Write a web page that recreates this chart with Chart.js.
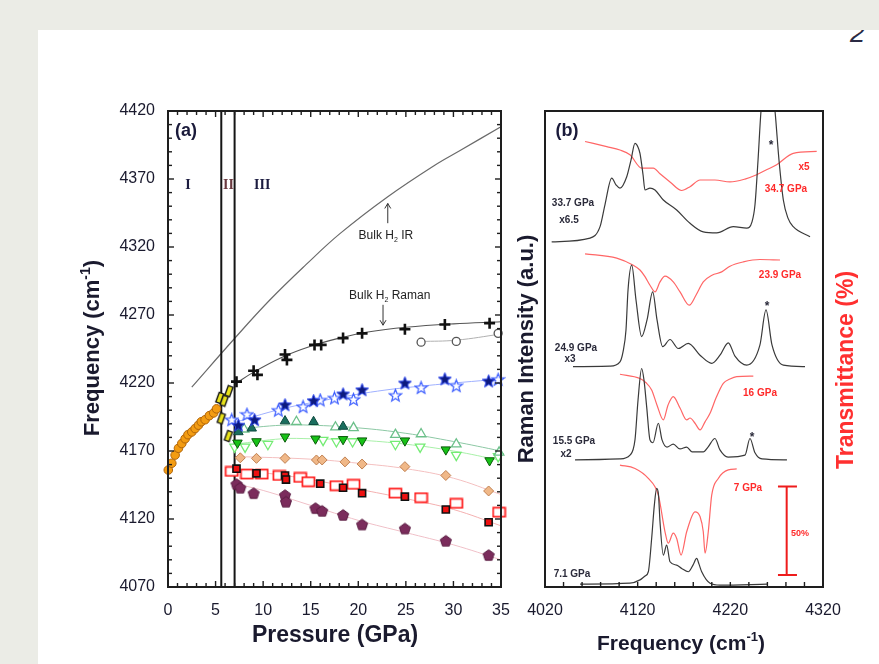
<!DOCTYPE html>
<html><head><meta charset="utf-8">
<script src="https://cdn.jsdelivr.net/npm/chart.js@4.4.0/dist/chart.umd.min.js"></script>
<style>
html,body{margin:0;padding:0;}
body{width:879px;height:664px;background:#ebece6;position:relative;overflow:hidden;font-family:"Liberation Sans",Arial,sans-serif;}
#page{position:absolute;left:38px;top:30px;width:841px;height:634px;background:#fff;overflow:hidden;}
#pg{position:absolute;left:812px;top:-10px;font:italic 27px/27px "Liberation Sans",Arial,sans-serif;color:#2a2a44;}
canvas{position:absolute;left:0;top:0;}
</style></head>
<body>
<div id="page"><div id="pg">2</div></div>
<canvas id="ca" width="879" height="664"></canvas>
<canvas id="cb" width="879" height="664"></canvas>
<script>
// ---------------- Panel (a) data: [pressure GPa, frequency cm-1] ----------------
const phaseIOrange = [[0.03,4156],[0.4,4161],[0.75,4167],[1.1,4172],[1.45,4175.5],[1.8,4179],[2.1,4182],[2.5,4184],[2.85,4186.5],[3.2,4189],[3.5,4191.5],[3.9,4193],[4.35,4196],[4.8,4198],[5.1,4201]];
const phaseIIYellow = [[5.45,4209],[5.9,4207],[6.4,4214],[5.6,4194],[6.35,4181]];
const crossesBlack = [[7.2,4221],[9.0,4229],[9.4,4226],[12.3,4241],[12.5,4237],[15.4,4248],[16.1,4248],[18.4,4253],[20.4,4256.5],[24.9,4259.5],[29.1,4263],[33.8,4264]];
const circlesOpen = [[26.6,4250],[30.3,4250.6],[34.7,4256.5]];
const starsFilled = [[7.4,4189],[9.1,4193],[12.3,4204],[15.3,4207],[18.4,4212],[20.4,4215],[24.9,4220],[29.1,4223],[33.7,4221.5]];
const starsOpen = [[6.7,4193],[8.3,4197],[11.6,4200],[14.2,4202.6],[16.0,4207.5],[17.5,4209],[19.5,4208],[23.9,4211],[26.6,4216.6],[30.3,4218],[34.7,4222.7]];
const triUpFilled = [[7.4,4184],[8.8,4186.7],[12.3,4192],[15.3,4191.5],[18.4,4188]];
const triUpOpen = [[8.0,4186],[13.5,4191.5],[17.6,4187.5],[19.5,4187],[23.9,4182],[26.6,4182.5],[30.3,4175],[34.8,4169]];
const triDownFilled = [[7.3,4176],[9.3,4177],[12.3,4180.5],[15.5,4179],[18.4,4178.6],[20.4,4177.6],[24.9,4177.6],[29.2,4171],[33.8,4163]];
const triDownOpen = [[7.0,4173],[8.1,4173],[10.5,4175],[16.3,4178],[17.7,4177],[19.4,4177],[23.9,4175],[26.5,4173],[30.3,4167],[34.7,4166]];
const diamonds = [[7.6,4165],[9.3,4164.6],[12.3,4164.6],[15.6,4163.4],[16.2,4163.4],[18.6,4162],[20.4,4160.4],[24.9,4158.5],[29.2,4152],[33.7,4140.6]];
const squaresFilled = [[7.2,4157],[9.3,4153.6],[12.3,4152],[12.4,4149],[16.0,4146],[18.4,4143],[20.4,4139],[24.9,4136.4],[29.2,4127],[33.7,4117.6]];
const squaresOpen = [[6.7,4155],[8.3,4153],[9.85,4153],[11.7,4152],[13.9,4150.6],[14.75,4147.4],[17.7,4144.5],[19.5,4145.5],[23.9,4139],[26.6,4135.7],[30.3,4131.5],[34.8,4125]];
const pentagons = [[7.2,4145.7],[7.6,4143],[9.0,4139],[12.3,4137.6],[12.4,4132.7],[15.5,4128],[16.2,4126],[18.4,4123],[20.4,4116],[24.9,4113],[29.2,4104],[33.7,4093.5]];
// curves
const bulkIR = [[2.5,4217],[6.9,4252],[10.7,4281],[14.5,4307],[18.1,4330],[23.1,4357],[28,4380],[30.7,4391],[34.9,4408]];
const fitRaman = [[7.0,4219],[9,4228],[12,4239],[15,4247],[18,4253],[21,4257.5],[25,4261],[30,4263.5],[35,4265]];
const fitCircles = [[26.6,4250.5],[30.3,4251.5],[35,4256]];
const fitStars = [[6.5,4190],[12,4201],[17,4208],[22,4214],[27,4218],[35,4223]];
const fitUp = [[7,4186],[12,4189],[15,4189],[20,4187],[25,4183],[30,4177],[35,4170]];
const fitDown = [[7,4175],[12,4179],[15,4179],[20,4178],[25,4175],[30,4170],[35,4163]];
const fitDiamond = [[7,4166],[15,4164],[20,4161],[25,4157],[30,4150],[35,4138]];
const fitSquare = [[6.5,4156],[10,4154],[15,4149],[20,4142],[25,4135],[30,4127],[35,4115]];
const fitPent = [[7,4146],[10,4141],[15,4130],[20,4119],[25,4110],[30,4101],[35,4090]];
const phaseLines = [5.6, 7.0];
const pressureTicks = [0,5,10,15,20,25,30,35];
const freqTicksA = [4070,4120,4170,4220,4270,4320,4370,4420];

// ---------------- Panel (b) data: [frequency cm-1, intensity a.u.] ----------------
const raman71 = [[4057.8,0.6],[4111.7,0.8],[4122.5,1.5],[4127.9,2.3],[4131.5,3.2],[4135.1,10.2],[4138.0,17.2],[4140.5,20.7],[4142.5,19.3],[4144.1,13.7],[4147.7,6.7],[4151.3,8.8],[4154.9,5.3],[4162.1,4.6],[4167.5,3.9],[4174.6,3.2],[4179.7,4.6],[4183.7,6.0],[4186.2,4.8],[4189.1,3.2],[4198.1,0.8],[4208.8,0.4],[4259.6,0.6]];
const raman155 = [[4052.4,26.7],[4100.9,26.9],[4111.7,27.7],[4117.1,30.9],[4120.4,39.3],[4124.3,45.9],[4126.8,43.5],[4129.7,37.9],[4133.3,30.9],[4136.5,30.3],[4142.3,34.4],[4146.3,30.9],[4151.6,29.4],[4158.4,30.0],[4165.7,29.0],[4172.9,29.4],[4178.6,28.4],[4190.8,28.4],[4195.9,29.4],[4203.4,31.2],[4208.8,28.8],[4217.5,27.3],[4235.8,27.7],[4241.2,31.2],[4246.6,28.2],[4254.2,26.9],[4281.1,26.7]];
const raman249 = [[4050.2,46.3],[4090.1,46.4],[4100.9,47.3],[4104.2,49.4],[4107.4,54.0],[4109.6,62.4],[4113.6,67.6],[4118.2,60.3],[4124.3,52.6],[4130.1,56.1],[4136.2,62.0],[4140.9,56.1],[4147.0,50.5],[4154.9,52.0],[4163.8,50.1],[4174.6,51.2],[4187.3,48.7],[4199.9,47.0],[4208.8,48.7],[4217.8,51.3],[4225.0,48.5],[4237.7,46.6],[4251.9,50.8],[4258.5,58.2],[4265.0,50.8],[4277.2,46.6],[4300.6,46.3]];
const raman337 = [[4027.2,72.5],[4068.6,73.3],[4079.4,75.7],[4084.7,80.3],[4092.0,85.9],[4096.6,84.5],[4100.9,83.8],[4108.2,86.2],[4112.8,89.7],[4117.1,93.2],[4120.4,92.4],[4122.5,91.1],[4125.8,86.6],[4127.9,83.4],[4133.3,83.8],[4138.7,83.4],[4147.7,81.3],[4162.1,79.2],[4176.5,76.4],[4190.8,74.6],[4205.3,74.4],[4223.2,75.7],[4237.7,75.4],[4243.4,76.7],[4246.6,80.3],[4249.9,89.7],[4253.1,100],[4260.6,112],[4268.2,100],[4272.5,89.7],[4277.2,81.3],[4282.2,77.5],[4287.9,75.7],[4306.0,73.6]];
const trans7 = [[4100.9,25.6],[4117.1,24.9],[4131.5,22.8],[4142.3,19.3],[4149.5,11.6],[4153.0,9.2],[4158.4,11.3],[4162.1,10.2],[4166.8,6.7],[4172.9,11.6],[4181.9,15.8],[4187.3,14.8],[4190.8,11.6],[4192.7,7.1],[4196.2,11.6],[4199.9,19.3],[4207.0,22.8],[4217.8,24.6],[4226.9,24.8]];
const trans16 = [[4100.9,44.7],[4122.5,43.8],[4129.0,42.9],[4135.1,41.4],[4140.9,38.2],[4147.7,35.1],[4152.7,38.2],[4158.4,40.0],[4165.7,37.6],[4172.9,35.1],[4176.5,35.5],[4181.9,34.4],[4187.3,33.0],[4192.7,34.7],[4198.1,36.5],[4204.5,39.7],[4212.4,42.8],[4219.6,43.7],[4226.9,44.2],[4244.8,44.3]];
const trans239 = [[4063.2,70.0],[4097.4,69.1],[4115.3,67.6],[4122.5,66.6],[4127.9,65.2],[4133.3,63.4],[4138.7,62.0],[4144.1,64.1],[4149.5,65.3],[4158.4,64.1],[4165.7,62.0],[4175.7,59.2],[4182.9,61.3],[4190.8,64.1],[4200.2,65.5],[4210.7,66.2],[4219.6,67.4],[4234.0,68.3],[4252.0,68.8],[4273.6,68.7]];
const trans347 = [[4063.2,93.6],[4086.6,92.5],[4100.9,91.8],[4111.7,90.8],[4124.3,88.0],[4136.9,88.0],[4144.1,86.8],[4154.9,85.1],[4167.5,83.3],[4176.5,84.1],[4187.3,85.5],[4203.4,85.5],[4219.6,85.1],[4235.8,85.7],[4248.4,86.6],[4258.5,87.6],[4270.0,88.7],[4287.9,91.1],[4313.2,91.5]];
const scaleBar = [[4271.4,21.1],[4291.9,21.1],null,[4280.8,21.1],[4280.8,2.5],null,[4271.4,2.5],[4291.9,2.5]];
const freqTicksB = [4020,4120,4220,4320];

// ---------------- helpers ----------------
const FONT = '"Liberation Sans", Arial, sans-serif';
Chart.defaults.font.family = FONT;
const pts = a => a.map(p => p === null ? {x:null,y:null} : ({x:p[0], y:p[1]}));
function mk(w,h,draw){const c=document.createElement('canvas');c.width=w;c.height=h;draw(c.getContext('2d'),w,h);return c;}
function starPath(g,cx,cy,R,r){g.beginPath();for(let i=0;i<10;i++){const a=-Math.PI/2+i*Math.PI/5;const rr=i%2?r:R;g.lineTo(cx+rr*Math.cos(a),cy+rr*Math.sin(a));}g.closePath();}
const starFill = mk(15,15,g=>{starPath(g,7.5,8,6.8,2.9);g.fillStyle='#0d1a7e';g.fill();g.strokeStyle='#2a44ee';g.lineWidth=1;g.stroke();});
const starOpen = mk(15,15,g=>{starPath(g,7.5,8,6.4,2.7);g.fillStyle='#fff';g.fill();g.strokeStyle='#3a5cff';g.lineWidth=1.2;g.stroke();});
const pentMark = mk(14,14,g=>{g.beginPath();for(let i=0;i<5;i++){const a=-Math.PI/2+i*2*Math.PI/5;g.lineTo(7+5.8*Math.cos(a),7.5+5.8*Math.sin(a));}g.closePath();g.fillStyle='#7b2c5c';g.fill();g.strokeStyle='#5a1c42';g.lineWidth=1;g.stroke();});
const yelMark = mk(12,14,g=>{g.translate(6,7);g.rotate(0.35);g.fillStyle='#e8e21a';g.fillRect(-2.5,-5,5,10);g.strokeStyle='#1a1a1a';g.lineWidth=1.4;g.strokeRect(-2.5,-5,5,10);});
const sqOpenMark = mk(15,12,g=>{g.fillStyle='#fff';g.fillRect(1.5,1.5,12,9);g.strokeStyle='#ff1a1a';g.lineWidth=1.7;g.strokeRect(1.5,1.5,12,9);});

function rich(ctx, parts, cx, cy, size, weight, color, rot, align){
  ctx.save(); ctx.translate(cx,cy); if(rot) ctx.rotate(rot);
  ctx.fillStyle=color; ctx.textBaseline='alphabetic'; ctx.textAlign='left';
  const fonts = parts.map(p=>`${weight} ${(p.sup||p.sub)?Math.round(size*0.62):size}px ${FONT}`);
  let w=0; parts.forEach((p,i)=>{ctx.font=fonts[i]; w+=ctx.measureText(p.t).width;});
  let x = align==='left'?0:(align==='right'?-w:-w/2); const base=size*0.36;
  parts.forEach((p,i)=>{ctx.font=fonts[i]; const dy=p.sup?-size*0.42:(p.sub?size*0.28:0); ctx.fillText(p.t,x,base+dy); x+=ctx.measureText(p.t).width;});
  ctx.restore();
}
function seg(ctx,x1,y1,x2,y2){ctx.beginPath();ctx.moveTo(x1,y1);ctx.lineTo(x2,y2);ctx.stroke();}

function scatterDs(data, o){return Object.assign({data:pts(data), showLine:false, pointRadius:5, pointBorderWidth:1, pointHoverRadius:0, clip:false}, o);}
function lineDs(data, color, w, o){return Object.assign({data:pts(data), showLine:true, pointRadius:0, borderColor:color, borderWidth:w, tension:0.4, fill:false}, o||{});}
const tickFont = {size:16};
const tickColor = '#1a1a2e';

// ---------------- Panel (a) ----------------
const frameA = {id:'frameA', afterDraw(c){
  const {ctx, chartArea:a, scales:{x,y}} = c;
  ctx.save(); ctx.strokeStyle='#1e1e1e'; ctx.lineWidth=1.4;
  for(let v=0; v<=35; v++){const px=x.getPixelForValue(v); const L=v%5===0?6:4; seg(ctx,px,a.bottom,px,a.bottom-L); seg(ctx,px,a.top,px,a.top+L);}
  for(let v=4070; v<=4420; v+=10){const py=y.getPixelForValue(v); const L=(v-4070)%50===0?6:4; seg(ctx,a.left,py,a.left+L,py); seg(ctx,a.right,py,a.right-L,py);}
  ctx.lineWidth=2; ctx.strokeRect(a.left,a.top,a.right-a.left,a.bottom-a.top);
  // arrows
  ctx.strokeStyle='#333'; ctx.lineWidth=1;
  let ax=x.getPixelForValue(23.1), y1=y.getPixelForValue(4337.5), y2=y.getPixelForValue(4352);
  seg(ctx,ax,y1,ax,y2); seg(ctx,ax,y2,ax-3,y2+5); seg(ctx,ax,y2,ax+3,y2+5);
  ax=x.getPixelForValue(22.6); y1=y.getPixelForValue(4277.5); y2=y.getPixelForValue(4262.5);
  seg(ctx,ax,y1,ax,y2); seg(ctx,ax,y2,ax-3,y2-5); seg(ctx,ax,y2,ax+3,y2-5);
  // texts
  rich(ctx,[{t:'(a)'}],186,130,18,'bold','#1a1a3a');
  ctx.font=`bold 14px "Liberation Serif", serif`; ctx.textAlign='center'; ctx.textBaseline='middle';
  ctx.fillStyle='#1c1c40'; ctx.fillText('I', x.getPixelForValue(2.1), y.getPixelForValue(4365));
  ctx.fillStyle='#6a3a40'; ctx.fillText('II', x.getPixelForValue(6.35), y.getPixelForValue(4365));
  ctx.fillStyle='#1c1c40'; ctx.fillText('III', x.getPixelForValue(9.9), y.getPixelForValue(4365));
  rich(ctx,[{t:'Bulk H'},{t:'2',sub:true},{t:' IR'}], x.getPixelForValue(22.9), y.getPixelForValue(4329), 12,'normal','#222');
  rich(ctx,[{t:'Bulk H'},{t:'2',sub:true},{t:' Raman'}], x.getPixelForValue(23.3), y.getPixelForValue(4285), 12,'normal','#222');
  // axis titles
  rich(ctx,[{t:'Frequency (cm'},{t:'-1',sup:true},{t:')'}], 91, 348, 22,'bold','#1a1a2e', -Math.PI/2);
  rich(ctx,[{t:'Pressure (GPa)'}], 335, 634, 23,'bold','#1a1a2e');
  ctx.restore();
}};

const dsA = [
  scatterDs(phaseIIYellow,{pointStyle:yelMark}),
  scatterDs(phaseIOrange,{pointStyle:'circle',pointRadius:4.3,backgroundColor:'#f39c12',borderColor:'#b0650a'}),
  scatterDs(crossesBlack,{pointStyle:'cross',pointRadius:5.5,pointBorderWidth:2.6,borderColor:'#111'}),
  scatterDs(circlesOpen,{pointStyle:'circle',pointRadius:4,backgroundColor:'#fff',borderColor:'#555',pointBorderWidth:1.3}),
  scatterDs(starsFilled,{pointStyle:starFill}),
  scatterDs(starsOpen,{pointStyle:starOpen}),
  scatterDs(triUpFilled,{pointStyle:'triangle',pointRadius:5.5,backgroundColor:'#1a6e5e',borderColor:'#0e4a3e'}),
  scatterDs(triUpOpen,{pointStyle:'triangle',pointRadius:5.5,backgroundColor:'#fff',borderColor:'#6cc08a',pointBorderWidth:1.3}),
  scatterDs(triDownFilled,{pointStyle:'triangle',rotation:180,pointRotation:180,pointRadius:5.5,backgroundColor:'#16c216',borderColor:'#0a5a0a'}),
  scatterDs(triDownOpen,{pointStyle:'triangle',rotation:180,pointRotation:180,pointRadius:5.5,backgroundColor:'#fff',borderColor:'#74ec74',pointBorderWidth:1.3}),
  scatterDs(diamonds,{pointStyle:'rectRot',pointRadius:5,backgroundColor:'#f0b888',borderColor:'#c08050'}),
  scatterDs(squaresFilled,{pointStyle:'rect',pointRadius:5,backgroundColor:'#ee1010',borderColor:'#111',pointBorderWidth:1.6}),
  scatterDs(squaresOpen,{pointStyle:sqOpenMark}),
  scatterDs(pentagons,{pointStyle:pentMark}),
  lineDs([[phaseLines[0],4070],[phaseLines[0],4420]],'#151515',2,{tension:0}),
  lineDs([[phaseLines[1],4070],[phaseLines[1],4420]],'#151515',2,{tension:0}),
  lineDs(bulkIR,'#6a6a6a',1.2),
  lineDs(fitRaman,'#555',1.1),
  lineDs(fitCircles,'#b0b0b0',1),
  lineDs(fitStars,'#9fb0ff',1),
  lineDs(fitUp,'#8cc8a4',1),
  lineDs(fitDown,'#a8f0a8',1),
  lineDs(fitDiamond,'#f4c0c0',1),
  lineDs(fitSquare,'#f4b0b0',1),
  lineDs(fitPent,'#f0c0c8',1)
];

new Chart(document.getElementById('ca'),{
  type:'scatter',
  data:{datasets:dsA},
  options:{
    responsive:false, animation:false, devicePixelRatio:1, events:[],
    layout:{padding:{left:0,right:378,top:111,bottom:0}},
    plugins:{legend:{display:false},tooltip:{enabled:false}},
    scales:{
      x:{type:'linear',min:0,max:35,grid:{display:false,drawTicks:false},border:{display:false},
         afterBuildTicks:s=>{s.ticks=pressureTicks.map(v=>({value:v}));},
         ticks:{autoSkip:false,maxRotation:0,padding:14,color:tickColor,font:tickFont,callback:v=>String(v)},
         afterFit:s=>{s.height=77;}},
      y:{type:'linear',min:4070,max:4420,grid:{display:false,drawTicks:false},border:{display:false},
         afterBuildTicks:s=>{s.ticks=freqTicksA.map(v=>({value:v}));},
         ticks:{autoSkip:false,padding:13,color:tickColor,font:tickFont,callback:v=>String(v)},
         afterFit:s=>{s.width=168;}}
    }
  },
  plugins:[frameA]
});

// ---------------- Panel (b) ----------------
const frameB = {id:'frameB', afterDraw(c){
  const {ctx, chartArea:a, scales:{x}} = c;
  ctx.save(); ctx.strokeStyle='#1e1e1e'; ctx.lineWidth=1.4;
  for(let v=4040; v<4320; v+=20){const px=x.getPixelForValue(v); seg(ctx,px,a.bottom,px,a.bottom-5);}
  ctx.lineWidth=2; ctx.strokeRect(a.left,a.top,a.right-a.left,a.bottom-a.top);
  rich(ctx,[{t:'(b)'}],567,130,18,'bold','#1a1a3a');
  const K='#2a2a3a', R='#ff2a2a';
  rich(ctx,[{t:'33.7 GPa'}],573,202,10,'bold',K);
  rich(ctx,[{t:'x6.5'}],569,219,10,'bold',K);
  rich(ctx,[{t:'x5'}],804,166,10,'bold',R);
  rich(ctx,[{t:'34.7 GPa'}],786,188,10,'bold',R);
  rich(ctx,[{t:'23.9 GPa'}],780,274,10,'bold',R);
  rich(ctx,[{t:'24.9 GPa'}],576,347,10,'bold',K);
  rich(ctx,[{t:'x3'}],570,358,10,'bold',K);
  rich(ctx,[{t:'16 GPa'}],760,392,10,'bold',R);
  rich(ctx,[{t:'15.5 GPa'}],574,440,10,'bold',K);
  rich(ctx,[{t:'x2'}],566,453,10,'bold',K);
  rich(ctx,[{t:'7 GPa'}],748,487,10,'bold',R);
  rich(ctx,[{t:'7.1 GPa'}],572,573,10,'bold',K);
  rich(ctx,[{t:'50%'}],800,533,9,'bold',R);
  rich(ctx,[{t:'*'}],771,145,12,'bold',K);
  rich(ctx,[{t:'*'}],767,306,12,'bold',K);
  rich(ctx,[{t:'*'}],752,437,12,'bold',K);
  rich(ctx,[{t:'Raman Intensity (a.u.)'}],525,349,22,'bold','#1a1a2e',-Math.PI/2);
  rich(ctx,[{t:'Transmittance (%)'}],845,370,23,'bold','#ff3030',-Math.PI/2);
  rich(ctx,[{t:'Frequency (cm'},{t:'-1',sup:true},{t:')'}],681,642,21,'bold','#1a1a2e');
  ctx.restore();
}};

const mono = {cubicInterpolationMode:'monotone'};
new Chart(document.getElementById('cb'),{
  type:'scatter',
  data:{datasets:[
    lineDs(raman71,'#3a3a3a',1.2,mono),
    lineDs(raman155,'#3a3a3a',1.2,mono),
    lineDs(raman249,'#3a3a3a',1.2,mono),
    lineDs(raman337,'#3a3a3a',1.2,mono),
    lineDs(trans7,'#ff6666',1.2,mono),
    lineDs(trans16,'#ff6666',1.2,mono),
    lineDs(trans239,'#ff6666',1.2,mono),
    lineDs(trans347,'#ff6666',1.2,mono),
    lineDs(scaleBar,'#ee1c1c',2,{tension:0,spanGaps:false})
  ]},
  options:{
    responsive:false, animation:false, devicePixelRatio:1, events:[],
    layout:{padding:{left:545,right:56,top:111,bottom:0}},
    plugins:{legend:{display:false},tooltip:{enabled:false}},
    scales:{
      x:{type:'linear',min:4020,max:4320,grid:{display:false,drawTicks:false},border:{display:false},
         afterBuildTicks:s=>{s.ticks=freqTicksB.map(v=>({value:v}));},
         ticks:{autoSkip:false,maxRotation:0,padding:14,color:tickColor,font:tickFont,callback:v=>String(v)},
         afterFit:s=>{s.height=77;}},
      y:{type:'linear',min:0,max:100,display:false}
    }
  },
  plugins:[frameB]
});
</script>
</body></html>
